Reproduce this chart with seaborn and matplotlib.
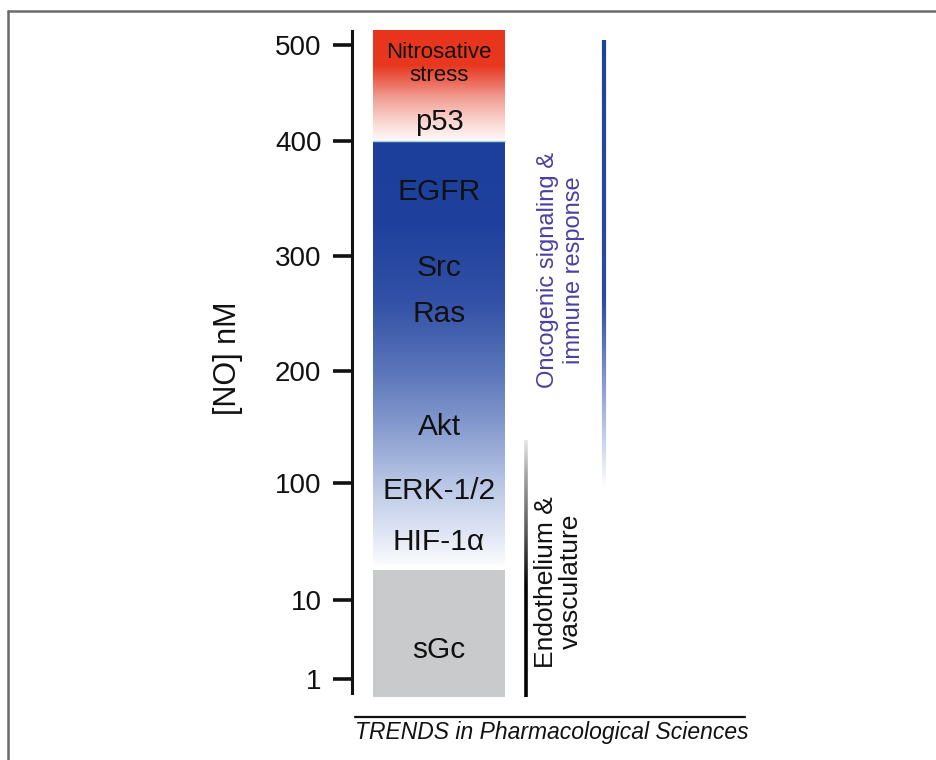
import numpy as np
import matplotlib
matplotlib.use("Agg")
import matplotlib.pyplot as plt
from matplotlib.colors import to_rgb
from matplotlib.collections import LineCollection
from matplotlib.lines import Line2D
import seaborn as sns

# hand drawn [NO] scale: concentration (nM) -> position on the axis
scale_vals = [0, 1, 10, 100, 200, 300, 400, 500, 520]
scale_pos = [0, 0.18, 0.97, 2.14, 3.26, 4.41, 5.56, 6.52, 6.71]
tick_vals = [1, 10, 100, 200, 300, 400, 500]
tick_labels = ["1", "10", "100", "200", "300", "400", "500"]

# concentration ranges of the blocks (nM)
sgc_range = [0, 33]
blue_range = [37, 400]
red_range = [400, 515]

# colour stops along the blocks
blue_stop_vals = [37, 60, 103, 152, 200, 262, 327, 400]
blue_stop_colors = ["#fbfcfe", "#e0e6f4", "#b5c3e4", "#8499cd",
                    "#5a75b9", "#3250a6", "#1f419d", "#1c3f9c"]
red_stop_vals = [400, 420, 443, 464, 478, 515]
red_stop_colors = ["#fffafa", "#fad6d0", "#f2a399", "#eb604f", "#e8381f", "#e8341c"]

# protein labels inside the bar
labels = ["sGc", "HIF-1\u03b1", "ERK-1/2", "Akt", "Ras", "Src", "EGFR", "p53", "Nitrosative\nstress"]
label_vals = [4.3, 55, 94, 150, 250, 290, 356, 420, 480]
label_sizes = [21.5, 21.5, 21.5, 21.5, 21.5, 21.5, 21.5, 21, 16]

# bracket lines on the right
endo_stop_vals = [0, 20, 60, 110, 138]
endo_stop_colors = ["#000000", "#000000", "#555555", "#aaaaaa", "#e8e8e8"]
onco_stop_vals = [95, 150, 262, 505]
onco_stop_colors = ["#ffffff", "#b8c4e6", "#2a4aa5", "#1e40a0"]


def to_pos(v):
    return np.interp(v, scale_vals, scale_pos)


def gradient(stop_vals, stop_colors, lo, hi, n=400):
    pos = np.linspace(to_pos(lo), to_pos(hi), n)
    conc = np.interp(pos, scale_pos, scale_vals)
    rgb = np.array([to_rgb(c) for c in stop_colors])
    cols = np.stack([np.interp(conc, stop_vals, rgb[:, i]) for i in range(3)], axis=1)
    return pos, cols


sns.set_style("white")
plt.rcParams["font.family"] = ["Liberation Sans", "DejaVu Sans"]

fig = plt.figure(figsize=(9.36, 7.6), dpi=100)
ax = fig.add_axes([352 / 936, 50 / 760, 448 / 936, 690 / 760])
ax.set_xlim(0, 4.48)
ax.set_ylim(-0.13, 6.77)

x0, x1 = 0.21, 1.53

################################################
# Blocks
################################################

ax.bar((x0 + x1) / 2, to_pos(sgc_range[1]) - to_pos(sgc_range[0]), width=x1 - x0,
       bottom=to_pos(sgc_range[0]), color="#c9cacb", linewidth=0)

for stops, colors, rng in [(blue_stop_vals, blue_stop_colors, blue_range),
                           (red_stop_vals, red_stop_colors, red_range)]:
    pos, cols = gradient(stops, colors, rng[0], rng[1])
    img = np.repeat(cols[:, None, :], 2, axis=1)
    ax.imshow(img, extent=[x0, x1, pos[0], pos[-1]], origin="lower",
              aspect="auto", interpolation="bilinear")

ax.plot([x0, x1], [to_pos(400)] * 2, color="#a6d8da", lw=1)

for lab, v, fs in zip(labels, label_vals, label_sizes):
    ax.text(0.87, to_pos(v), lab, ha="center", va="center", fontsize=fs,
            color="#111111", linespacing=1.1)

################################################
# Range lines on the right
################################################

for stops, colors, xline, lw in [(endo_stop_vals, endo_stop_colors, 1.74, 2.6),
                                 (onco_stop_vals, onco_stop_colors, 2.52, 3.0)]:
    pos, cols = gradient(stops, colors, stops[0], stops[-1])
    pts = np.column_stack([np.full(len(pos), xline), pos])
    segs = np.stack([pts[:-1], pts[1:]], axis=1)
    ax.add_collection(LineCollection(segs, colors=cols[:-1], linewidths=lw,
                                     capstyle="butt"))

ax.text(2.09, to_pos(288), "Oncogenic signaling &\nimmune response", rotation=90,
        ha="center", va="center", fontsize=17, color="#4a3fa3", linespacing=1.2)
ax.text(2.065, to_pos(24), "Endothelium &\nvasculature", rotation=90,
        ha="center", va="center", fontsize=19, color="#111111", linespacing=1.05)

################################################
# Axis
################################################

for side in ["top", "right", "bottom"]:
    ax.spines[side].set_visible(False)
ax.spines["left"].set_bounds(0.04, 6.66)
ax.spines["left"].set_linewidth(2.2)
ax.spines["left"].set_color("#111111")

ax.set_xticks([])
ax.set_yticks([to_pos(v) for v in tick_vals])
ax.set_yticklabels(tick_labels)
ax.tick_params(axis="y", left=True, length=14, width=2.6, pad=8,
               labelsize=20, color="#111111", labelcolor="#111111")
ax.set_ylabel("[NO] nM", fontsize=22, color="#111111")
ax.yaxis.set_label_coords(-0.243, 0.51)

################################################
# Frame and footer
################################################

fig.add_artist(Line2D([8 / 936, 8 / 936], [0, 1 - 11 / 760], color="#6a6a6a", lw=1.8))
fig.add_artist(Line2D([8 / 936, 1], [1 - 11 / 760] * 2, color="#6a6a6a", lw=1.8))
fig.add_artist(Line2D([355 / 936, 745 / 936], [1 - 717 / 760] * 2, color="#111111", lw=1.6))
fig.text(355 / 936, 1 - 733 / 760, "TRENDS in Pharmacological Sciences",
         ha="left", va="center", style="italic", fontsize=16.5, color="#111111")

fig.savefig("out.png", dpi=100)
